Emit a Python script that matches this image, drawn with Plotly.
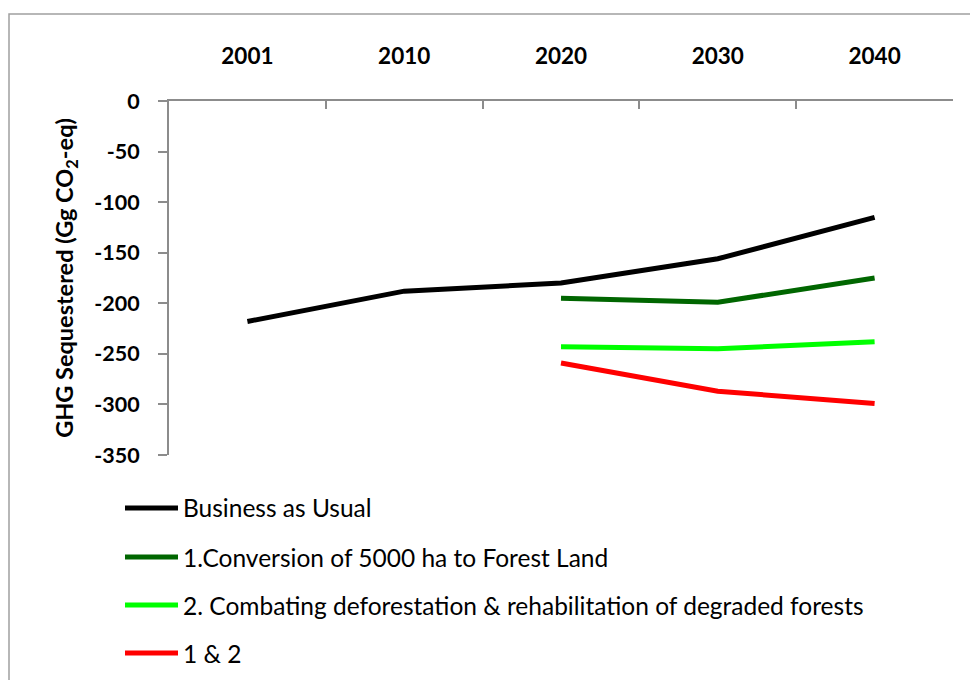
import plotly.graph_objects as go

years = ["2001", "2010", "2020", "2030", "2040"]
series_names = [
    "Business as Usual",
    "1.Conversion of 5000 ha to Forest Land",
    "2. Combating deforestation & rehabilitation of degraded forests",
    "1 & 2",
]
bau = [-218, -188, -180, -156, -115]
conversion = [None, None, -195, -199, -175]
combating = [None, None, -243, -245, -238]
both = [None, None, -259, -287, -299]
series_values = [bau, conversion, combating, both]
series_colors = ["#000000", "#006600", "#00FF00", "#FF0000"]
y_ticks = [0, -50, -100, -150, -200, -250, -300, -350]

W, H = 970, 680
L, R, T, B = 169, 17, 101, 225
PW, PH = W - L - R, H - T - B

def px_x(x):
    return (x - L) / PW

def px_y(y):
    return (H - B - y) / PH

FONT = "Lato, 'Open Sans', sans-serif"
AXIS_GRAY = "#8c8c8c"

fig = go.Figure()
for name, vals, col in zip(series_names, series_values, series_colors):
    fig.add_trace(go.Scatter(
        x=years, y=vals, mode="lines", name=name,
        line=dict(color=col, width=5), showlegend=False,
        connectgaps=False,
    ))

shapes = [dict(type="rect", xref="paper", yref="paper",
               x0=px_x(9), x1=px_x(1000), y0=px_y(700), y1=px_y(14),
               line=dict(color="#a0a0a0", width=1.5), fillcolor="rgba(0,0,0,0)",
               layer="below")]
annotations = []
row_y = [508, 557, 605, 653]
for i, (name, col) in enumerate(zip(series_names, series_colors)):
    yy = px_y(row_y[i])
    shapes.append(dict(type="line", xref="paper", yref="paper",
                       x0=px_x(125), x1=px_x(178), y0=yy, y1=yy,
                       line=dict(color=col, width=5)))
    annotations.append(dict(xref="paper", yref="paper", x=px_x(181), y=yy,
                            text=name, showarrow=False, xanchor="left", yanchor="middle",
                            font=dict(family=FONT, size=24.5, color="#000000")))

fig.update_layout(
    width=W, height=H,
    margin=dict(l=L, r=R, t=T, b=B, pad=0),
    paper_bgcolor="white", plot_bgcolor="white",
    showlegend=False,
    shapes=shapes,
    annotations=annotations,
    xaxis=dict(
        type="category", side="top", range=[-0.5, 4.5],
        showline=True, linecolor=AXIS_GRAY, linewidth=2,
        ticks="inside", tickson="boundaries", ticklen=8, tickcolor=AXIS_GRAY, tickwidth=2,
        showgrid=False, zeroline=False,
        tickfont=dict(family=FONT, size=22.5, color="#000000", weight="bold"),
        ticklabelstandoff=26,
    ),
    yaxis=dict(
        range=[-350, 0], tickvals=y_ticks, ticktext=[str(v) for v in y_ticks],
        showline=True, linecolor=AXIS_GRAY, linewidth=2,
        ticks="outside", ticklen=9, tickcolor=AXIS_GRAY, tickwidth=2,
        showgrid=False, zeroline=False,
        tickfont=dict(family=FONT, size=21.5, color="#000000", weight="bold"),
        ticklabelstandoff=14,
        title=dict(text="GHG Sequestered (Gg CO<sub>2</sub>-eq)",
                   font=dict(family=FONT, size=23.5, color="#000000", weight="bold"),
                   standoff=14),
    ),
)

fig.write_html("out.html", config={"displayModeBar": False},
               post_script="document.body.style.margin='0px';")
